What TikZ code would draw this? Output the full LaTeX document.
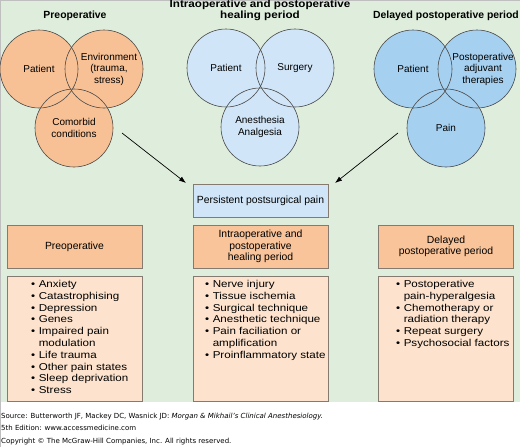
\documentclass[tikz,border=0pt]{standalone}
\usepackage{fontspec}
\setmainfont{Liberation Sans}
\newfontfamily\listfont{Liberation Sans}[FakeStretch=1.16]
\newfontfamily\widefont{Liberation Sans}[FakeStretch=1.12]
\newfontfamily\footfont{DejaVu Sans}
\usetikzlibrary{arrows.meta}
\definecolor{bggreen}{HTML}{DFEEDC}
\definecolor{preorange}{HTML}{F8C195}
\definecolor{paleblue}{HTML}{D0E5F7}
\definecolor{midblue}{HTML}{A6D0EF}
\definecolor{headorange}{HTML}{F9C499}
\definecolor{peach}{HTML}{FDE3CD}
\definecolor{rimgray}{HTML}{4A4A4A}
\definecolor{boxgray}{HTML}{857A70}
\newcommand{\bitem}[1]{\textbullet\hspace{3.5pt}#1}
\newcommand{\bcont}[1]{\phantom{\textbullet}\hspace{3.5pt}#1}

\begin{document}
\begin{tikzpicture}[x=1pt,y=-1pt,
  venn/.style={circle,inner sep=0pt,minimum size=78pt,align=center,
    font=\fontsize{10}{11.5}\selectfont},
  venntext/.style={inner sep=0pt,align=center,font=\fontsize{10}{11.5}\selectfont},
  rim/.style={draw=rimgray,line width=0.6pt},
  grouptitle/.style={align=center,font=\bfseries\fontsize{10.4}{11}\selectfont},
  headbox/.style={draw=boxgray,line width=0.6pt,fill=headorange,minimum width=135pt,
    minimum height=43pt,align=center,font=\fontsize{10.4}{11.3}\selectfont},
  listbox/.style={draw=boxgray,line width=0.6pt,fill=peach,minimum width=135pt,minimum height=125pt},
  listtext/.style={anchor=north west,inner sep=0pt,align=left,font=\listfont\fontsize{10}{11.8}\selectfont},
  arr/.style={-{Latex[length=7pt,width=5pt]},line width=0.7pt}]
\useasboundingbox (0,0) rectangle (520,447);
\fill[bggreen] (0,0) rectangle (520,402);
\draw[gray!50] (0.3,447) -- (0.3,0.3) -- (520,0.3);

% preoperative
\node[grouptitle] (pretitle) at (75,16) {Preoperative};
\node[venn,fill=preorange] (lpat) at (39,69) {Patient};
\node[venn,fill=preorange] (lenv) at (104,69) {};
\node[venn,fill=preorange] (lcom) at (74,128) {Comorbid\\conditions};
\foreach \c in {lpat,lenv,lcom} \draw[rim] (\c) circle[radius=39pt];
\node[venntext] (lenvtext) at ([xshift=5pt]lenv.center) {Environment\\(trauma,\\stress)};

% intraoperative
\node[grouptitle,font=\widefont\bfseries\fontsize{10.4}{11}\selectfont] (midtitle) at (260,10.5) {Intraoperative and postoperative\\healing period};
\node[venn,fill=paleblue] (mpat) at (226,68) {Patient};
\node[venn,fill=paleblue] (msur) at (295,68) {Surgery};
\node[venn,fill=paleblue] (mana) at (260,127) {Anesthesia\\Analgesia};
\foreach \c in {mpat,msur,mana} \draw[rim] (\c) circle[radius=39pt];

% delayed
\node[grouptitle] (deltitle) at (446,16) {Delayed postoperative period};
\node[venn,fill=midblue] (rpat) at (413,69) {Patient};
\node[venn,fill=midblue] (radj) at (477,69) {};
\node[venn,fill=midblue] (rpain) at (446,128) {Pain};
\foreach \c in {rpat,radj,rpain} \draw[rim] (\c) circle[radius=39pt];
\node[venntext] (radjtext) at ([xshift=6pt]radj.center) {Postoperative\\adjuvant\\therapies};

% outcome
\node[draw=boxgray,line width=0.6pt,fill=paleblue,minimum width=135pt,minimum height=33pt,
  font=\fontsize{10.4}{11.3}\selectfont] (persist) at (260.5,200.5) {Persistent postsurgical pain};
\coordinate (lfrom) at (122,133);
\coordinate (lto) at (186,183);
\coordinate (rfrom) at (398,133);
\coordinate (rto) at (335,183);
\draw[arr] (lfrom) -- (lto);
\draw[arr] (rfrom) -- (rto);

% factor headers
\node[headbox] (prehead) at (74.5,246.5) {Preoperative};
\node[headbox] (midhead) at (260.5,246.5) {Intraoperative and\\postoperative\\healing period};
\node[headbox] (delhead) at (446,246.5) {Delayed\\postoperative period};

% factor lists
\node[listbox] (prebox) at (74.5,338.5) {};
\node[listbox] (midbox) at (260.5,338.5) {};
\node[listbox] (delbox) at (446,338.5) {};
\node[listtext] (prelist) at (31,280) {\bitem{Anxiety}\\\bitem{Catastrophising}\\\bitem{Depression}\\
  \bitem{Genes}\\\bitem{Impaired pain}\\\bcont{modulation}\\\bitem{Life trauma}\\
  \bitem{Other pain states}\\\bitem{Sleep deprivation}\\\bitem{Stress}};
\node[listtext] (midlist) at (205,280) {\bitem{Nerve injury}\\\bitem{Tissue ischemia}\\
  \bitem{Surgical technique}\\\bitem{Anesthetic technique}\\\bitem{Pain faciliation or}\\
  \bcont{amplification}\\\bitem{Proinflammatory state}};
\node[listtext] (dellist) at (396,280) {\bitem{Postoperative}\\\bcont{pain-hyperalgesia}\\
  \bitem{Chemotherapy or}\\\bcont{radiation therapy}\\\bitem{Repeat surgery}\\
  \bitem{Psychosocial factors}};

% source
\node[anchor=west,inner sep=1pt,align=left,font=\footfont\fontsize{7}{12}\selectfont] (source) at (0,422)
  {Source: Butterworth JF, Mackey DC, Wasnick JD: \textit{Morgan \& Mikhail’s Clinical Anesthesiology.}\\
   5th Edition: www.accessmedicine.com};
\node[anchor=west,inner sep=1pt,font=\footfont\fontsize{7}{12}\selectfont] (copyright) at (0,442)
  {Copyright © The McGraw-Hill Companies, Inc. All rights reserved.};
\end{tikzpicture}
\end{document}
